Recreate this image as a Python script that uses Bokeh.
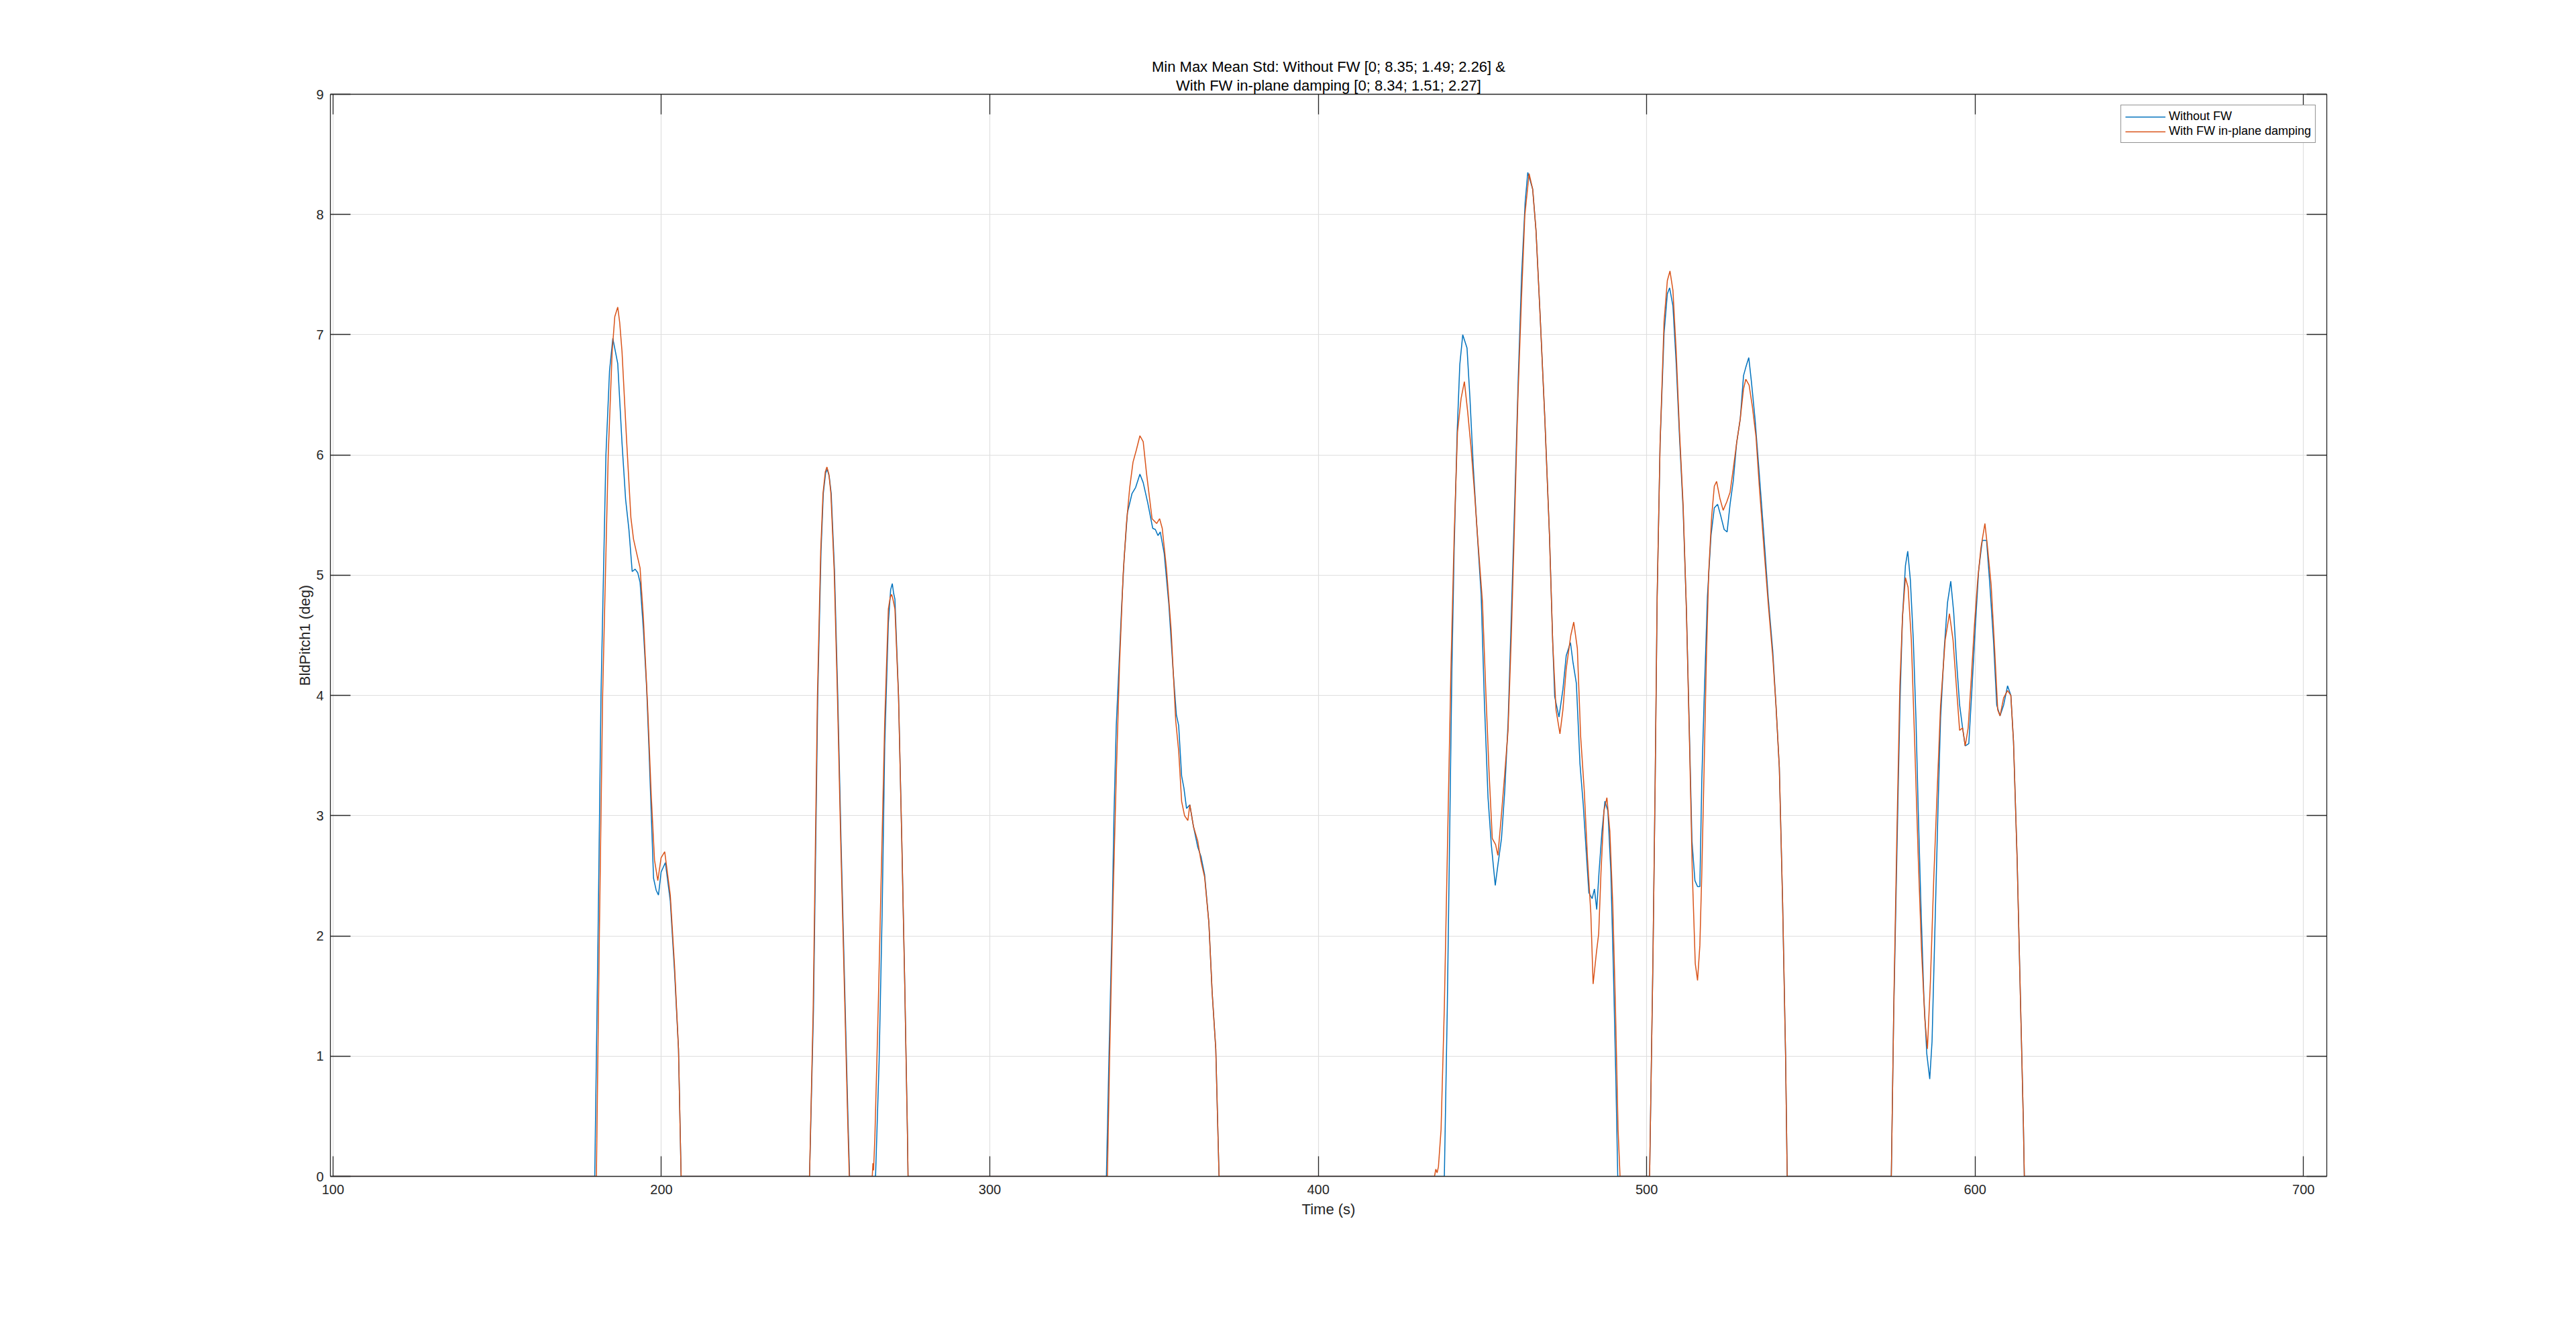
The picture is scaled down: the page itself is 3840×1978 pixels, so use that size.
from bokeh.plotting import figure
from bokeh.models import Range1d, LinearAxis, FixedTicker, ColumnDataSource, Title
from bokeh.embed import file_html
from bokeh.resources import INLINE

# ---------------- data ----------------
# (time [s], BldPitch1 [deg]) pairs
without_fw = [
    (100.0, 0.0),
    (179.7, 0.0), (180.7, 2.0), (181.6, 4.0), (183.1, 6.0), (184.2, 6.7), (185.2, 6.97), (186.7, 6.76),
    (188.0, 6.1), (189.1, 5.63), (190.1, 5.38), (191.1, 5.03), (192.0, 5.05), (192.8, 5.02), (193.5, 4.94),
    (194.5, 4.55), (195.5, 4.06), (196.2, 3.56), (196.9, 3.02), (197.6, 2.48), (198.4, 2.38), (199.1, 2.34),
    (199.9, 2.53), (201.2, 2.61), (202.7, 2.29), (204.0, 1.70), (205.2, 1.06), (206.0, 0.0),
    (245.1, 0.0), (246.3, 1.38), (246.9, 2.58), (247.6, 3.99), (248.6, 5.2), (249.3, 5.68), (250.0, 5.85),
    (250.5, 5.88), (251.1, 5.82), (251.7, 5.68), (252.7, 5.04), (253.7, 3.99), (254.7, 2.78), (255.8, 1.58),
    (256.8, 0.49), (257.3, 0.0),
    (265.2, 0.0), (266.3, 0.97), (267.2, 2.18), (268.0, 3.59), (269.1, 4.6), (269.8, 4.88), (270.3, 4.93),
    (270.7, 4.85), (271.1, 4.8), (272.2, 4.0), (273.2, 2.79), (274.1, 1.59), (274.9, 0.38), (275.1, 0.0),
    (335.5, 0.0), (336.3, 1.02), (337.2, 2.07), (337.8, 3.0), (338.5, 3.75), (339.2, 4.17), (340.1, 4.72),
    (340.9, 5.14), (341.9, 5.52), (343.3, 5.68), (344.4, 5.73), (345.7, 5.84), (346.7, 5.77), (348.1, 5.6),
    (349.6, 5.39), (350.4, 5.38), (351.2, 5.33), (351.9, 5.36), (353.1, 5.18), (354.5, 4.76), (355.8, 4.21),
    (356.8, 3.84), (357.5, 3.75), (358.4, 3.33), (359.1, 3.23), (359.9, 3.06), (360.9, 3.09), (362.0, 2.91),
    (363.3, 2.74), (364.3, 2.66), (365.4, 2.51), (366.7, 2.11), (367.7, 1.53), (368.8, 1.06), (369.8, 0.0),
    (438.4, 0.0), (439.3, 1.41), (440.0, 2.81), (440.7, 4.22), (441.4, 5.23), (442.3, 6.19), (443.1, 6.75),
    (444.0, 7.0), (445.3, 6.89), (446.2, 6.47), (447.2, 5.91), (448.3, 5.4), (449.6, 4.84), (450.6, 3.94),
    (451.7, 3.15), (452.7, 2.76), (453.9, 2.42), (454.7, 2.59), (455.8, 2.81), (456.8, 3.21), (457.8, 3.77),
    (458.8, 4.67), (459.9, 5.68), (460.9, 6.64), (461.9, 7.48), (463.0, 8.1), (463.8, 8.35), (465.3, 8.21),
    (466.3, 7.87), (467.6, 7.14), (469.0, 6.3), (470.4, 5.34), (471.4, 4.44), (472.0, 3.99), (473.3, 3.82),
    (474.5, 4.05), (475.5, 4.33), (476.8, 4.44), (477.6, 4.27), (478.6, 4.1), (479.7, 3.43), (480.7, 3.09),
    (481.6, 2.7), (482.4, 2.36), (483.4, 2.31), (484.1, 2.39), (484.8, 2.22), (485.5, 2.53), (486.4, 2.87),
    (487.3, 3.12), (488.2, 3.04), (489.1, 2.53), (489.9, 1.69), (490.6, 0.84), (491.2, 0.0),
    (500.9, 0.0), (501.9, 1.77), (502.6, 3.3), (503.2, 4.82), (504.1, 6.1), (505.3, 7.01), (506.3, 7.34),
    (507.0, 7.39), (508.0, 7.24), (509.0, 6.76), (510.0, 6.15), (511.1, 5.55), (512.1, 4.72), (513.1, 3.6),
    (513.8, 2.79), (514.7, 2.46), (515.5, 2.41), (516.2, 2.41), (516.8, 3.3), (517.5, 3.96), (518.5, 4.82),
    (519.6, 5.33), (520.6, 5.56), (521.6, 5.59), (522.6, 5.49), (523.6, 5.38), (524.5, 5.36), (525.4, 5.59),
    (526.4, 5.79), (527.4, 6.1), (528.5, 6.3), (529.5, 6.66), (530.2, 6.73), (531.1, 6.81), (531.9, 6.61),
    (533.0, 6.3), (534.3, 5.84), (535.7, 5.33), (537.0, 4.82), (538.4, 4.37), (539.4, 3.91), (540.4, 3.4),
    (541.4, 2.28), (542.3, 1.01), (542.8, 0.0),
    (574.5, 0.0), (575.2, 1.31), (575.9, 2.27), (576.6, 3.23), (577.2, 4.0), (577.9, 4.65), (578.8, 5.08),
    (579.5, 5.2), (580.3, 4.96), (581.2, 4.46), (582.0, 3.81), (582.7, 3.04), (583.5, 2.27), (584.4, 1.5),
    (585.3, 1.02), (586.2, 0.81), (586.9, 1.12), (587.8, 2.08), (588.7, 3.04), (589.5, 3.81), (590.6, 4.38),
    (591.6, 4.77), (592.6, 4.95), (593.5, 4.69), (594.3, 4.31), (595.3, 3.92), (596.2, 3.73), (597.0, 3.58),
    (598.1, 3.6), (599.1, 4.08), (600.1, 4.58), (601.1, 5.04), (602.2, 5.29), (603.5, 5.29), (604.5, 4.92),
    (605.6, 4.46), (606.6, 3.92), (607.6, 3.83), (608.7, 3.92), (609.9, 4.08), (610.9, 4.0), (611.7, 3.62),
    (612.8, 2.65), (613.8, 1.5), (614.7, 0.46), (615.0, 0.0),
    (700.0, 0.0),
]

with_fw = [
    (100.0, 0.0),
    (180.2, 0.0), (181.1, 2.0), (182.1, 4.0), (183.8, 6.0), (185.0, 6.86), (185.8, 7.15), (186.7, 7.23),
    (187.3, 7.1), (188.0, 6.86), (189.4, 6.12), (190.7, 5.48), (191.5, 5.3), (192.4, 5.19), (193.5, 5.06),
    (194.5, 4.65), (195.8, 3.91), (196.9, 3.17), (197.9, 2.63), (198.9, 2.46), (199.9, 2.65), (201.0, 2.70),
    (202.7, 2.34), (204.0, 1.75), (205.2, 1.06), (206.0, 0.0),
    (245.1, 0.0), (246.2, 1.38), (246.8, 2.58), (247.5, 3.99), (248.5, 5.2), (249.2, 5.68), (249.9, 5.86),
    (250.4, 5.9), (251.0, 5.84), (251.6, 5.68), (252.6, 5.04), (253.6, 3.99), (254.6, 2.78), (255.7, 1.58),
    (256.7, 0.49), (257.2, 0.0),
    (264.2, 0.0), (264.4, 0.11), (264.6, 0.05), (265.0, 0.33), (266.0, 1.38), (267.0, 2.58), (268.0, 3.79),
    (269.1, 4.72), (269.7, 4.82), (270.1, 4.84), (270.5, 4.8), (271.1, 4.72), (272.2, 3.99), (273.2, 2.78),
    (274.1, 1.58), (274.9, 0.37), (275.1, 0.0),
    (335.8, 0.0), (336.5, 1.02), (337.5, 2.28), (338.5, 3.33), (339.5, 4.26), (340.6, 5.01), (341.6, 5.43),
    (342.6, 5.73), (343.6, 5.94), (344.6, 6.04), (345.7, 6.16), (346.7, 6.11), (347.7, 5.85), (349.4, 5.47),
    (350.8, 5.43), (351.7, 5.47), (352.5, 5.39), (353.8, 5.05), (355.2, 4.55), (356.6, 3.79), (357.5, 3.54),
    (358.4, 3.12), (359.3, 3.0), (360.3, 2.96), (360.9, 3.09), (362.0, 2.91), (363.3, 2.79), (364.3, 2.62),
    (365.4, 2.49), (366.7, 2.11), (367.7, 1.53), (368.8, 1.06), (369.8, 0.0),
    (435.4, 0.0), (435.8, 0.06), (436.2, 0.03), (436.6, 0.08), (437.4, 0.39), (438.4, 1.41), (439.4, 2.81),
    (440.4, 4.22), (441.4, 5.34), (442.4, 6.19), (443.5, 6.47), (444.5, 6.61), (445.5, 6.36), (446.5, 6.07),
    (447.6, 5.68), (448.6, 5.29), (450.0, 4.78), (451.0, 4.05), (452.0, 3.37), (453.0, 2.81), (454.0, 2.76),
    (454.7, 2.67), (455.7, 2.98), (456.7, 3.32), (457.8, 3.71), (458.8, 4.5), (459.8, 5.46), (460.8, 6.47),
    (461.9, 7.31), (462.9, 7.99), (464.2, 8.34), (465.3, 8.21), (466.3, 7.87), (467.6, 7.14), (469.0, 6.3),
    (470.4, 5.34), (471.4, 4.44), (472.4, 3.88), (473.6, 3.68), (474.5, 3.88), (475.5, 4.22), (476.9, 4.5),
    (477.8, 4.61), (478.9, 4.39), (479.9, 3.66), (481.0, 3.21), (482.0, 2.64), (483.0, 2.19), (483.7, 1.6),
    (484.7, 1.86), (485.4, 2.02), (486.1, 2.53), (487.0, 3.04), (487.9, 3.15), (488.8, 2.87), (489.7, 2.25),
    (490.5, 1.41), (491.3, 0.39), (491.9, 0.0),
    (500.9, 0.0), (501.9, 1.77), (502.6, 3.3), (503.2, 4.82), (504.1, 6.1), (505.3, 7.11), (506.3, 7.45),
    (507.1, 7.53), (508.0, 7.37), (509.0, 6.86), (510.0, 6.2), (511.1, 5.59), (512.1, 4.72), (513.1, 3.55),
    (513.9, 2.53), (514.8, 1.77), (515.5, 1.63), (516.2, 1.92), (516.8, 2.53), (517.5, 3.4), (518.2, 4.32),
    (518.9, 5.03), (519.8, 5.49), (520.6, 5.74), (521.3, 5.78), (522.3, 5.64), (523.3, 5.54), (524.4, 5.61),
    (525.4, 5.69), (526.4, 5.89), (527.4, 6.1), (528.5, 6.3), (529.5, 6.55), (530.2, 6.63), (531.2, 6.58),
    (532.2, 6.4), (533.3, 6.15), (534.3, 5.74), (535.7, 5.23), (537.0, 4.77), (538.4, 4.32), (539.4, 3.91),
    (540.4, 3.4), (541.4, 2.28), (542.3, 1.01), (542.8, 0.0),
    (574.5, 0.0), (575.3, 1.5), (576.2, 2.85), (577.1, 4.08), (577.9, 4.65), (578.8, 4.98), (579.6, 4.9),
    (580.6, 4.46), (581.6, 3.62), (582.7, 2.65), (583.7, 1.88), (584.7, 1.31), (585.5, 1.06), (586.4, 1.62),
    (587.4, 2.46), (588.5, 3.23), (589.5, 3.92), (590.9, 4.46), (592.2, 4.68), (593.3, 4.46), (594.3, 4.08),
    (595.3, 3.71), (596.2, 3.73), (597.0, 3.58), (597.9, 3.73), (598.8, 4.12), (599.8, 4.58), (600.8, 4.96),
    (601.8, 5.23), (603.0, 5.43), (603.8, 5.23), (604.9, 4.92), (605.9, 4.42), (606.9, 3.88), (607.6, 3.83),
    (608.7, 3.98), (609.9, 4.04), (610.9, 4.0), (611.7, 3.62), (612.8, 2.65), (613.8, 1.5), (614.7, 0.46),
    (615.0, 0.0),
    (700.0, 0.0),
]

x_ticks = [100, 200, 300, 400, 500, 600, 700]
y_ticks = [0, 1, 2, 3, 4, 5, 6, 7, 8, 9]
series_labels = ["Without FW", "With FW in-plane damping"]
series_colors = ["#0072BD", "#D95319"]
title_line1 = "Min Max Mean Std: Without FW [0; 8.35; 1.49; 2.26] &"
title_line2 = "With FW in-plane damping [0; 8.34; 1.51; 2.27]"
x_label = "Time (s)"
y_label = "BldPitch1 (deg)"

FONT = "Liberation Sans, Arial, sans-serif"
AX = "#262626"

p = figure(
    frame_width=2976, frame_height=1613,
    x_range=Range1d(99.2, 707.1), y_range=Range1d(0, 9),
    output_backend="svg", toolbar_location=None, title=None,
    min_border_left=492, min_border_top=140, min_border_right=330, min_border_bottom=190,
    background_fill_color="white", border_fill_color="white",
)
p.outline_line_color = None

for data, lab, col in zip([without_fw, with_fw], series_labels, series_colors):
    src = ColumnDataSource(dict(t=[d[0] for d in data], v=[d[1] for d in data]))
    p.line("t", "v", source=src, line_color=col, line_width=1.5, legend_label=lab)

bottom_ax = p.below[0]
left_ax = p.left[0]
right_ax = LinearAxis()
top_ax = LinearAxis()
p.add_layout(right_ax, "right")
p.add_layout(top_ax, "above")

for ax in [bottom_ax, top_ax]:
    ax.ticker = FixedTicker(ticks=x_ticks)
for ax in [left_ax, right_ax]:
    ax.ticker = FixedTicker(ticks=y_ticks)

for ax in [bottom_ax, top_ax, left_ax, right_ax]:
    ax.axis_line_color = AX
    ax.axis_line_width = 1.3
    ax.major_tick_line_color = AX
    ax.major_tick_line_width = 1.3
    ax.major_tick_in = 30
    ax.major_tick_out = 0
    ax.minor_tick_line_color = None
    ax.major_label_text_font = FONT
    ax.major_label_text_font_size = "20px"
    ax.major_label_text_color = AX
    ax.axis_label_text_font = FONT
    ax.axis_label_text_font_size = "22px"
    ax.axis_label_text_font_style = "normal"
    ax.axis_label_text_color = AX

bottom_ax.axis_label = x_label
left_ax.axis_label = y_label
bottom_ax.major_label_standoff = 12
left_ax.major_label_standoff = 10
bottom_ax.axis_label_standoff = 7
left_ax.axis_label_standoff = 1

# mirrored axes: tick marks only, no labels painted
for ax in [top_ax, right_ax]:
    ax.major_label_text_font_size = "1px"
    ax.major_label_text_color = None
    ax.major_label_standoff = 0

p.xgrid.ticker = FixedTicker(ticks=x_ticks)
p.ygrid.ticker = FixedTicker(ticks=y_ticks)
p.grid.grid_line_color = "#dfdfdf"
p.grid.grid_line_width = 1.2

p.add_layout(Title(text=title_line2, align="center", text_font=FONT, text_font_size="22px",
                   text_font_style="normal", text_color="black", standoff=2), "above")
p.add_layout(Title(text=title_line1, align="center", text_font=FONT, text_font_size="22px",
                   text_font_style="normal", text_color="black", standoff=0), "above")

lg = p.legend[0]
lg.location = "top_right"
lg.margin = 16
lg.padding = 6
lg.spacing = 1
lg.glyph_width = 60
lg.glyph_height = 20
lg.label_height = 20
lg.label_standoff = 5
lg.label_text_font = FONT
lg.label_text_font_size = "18px"
lg.label_text_color = "black"
lg.border_line_color = AX
lg.border_line_width = 1
lg.background_fill_color = "white"
lg.background_fill_alpha = 1.0

open("out.html", "w").write(file_html(p, INLINE))
